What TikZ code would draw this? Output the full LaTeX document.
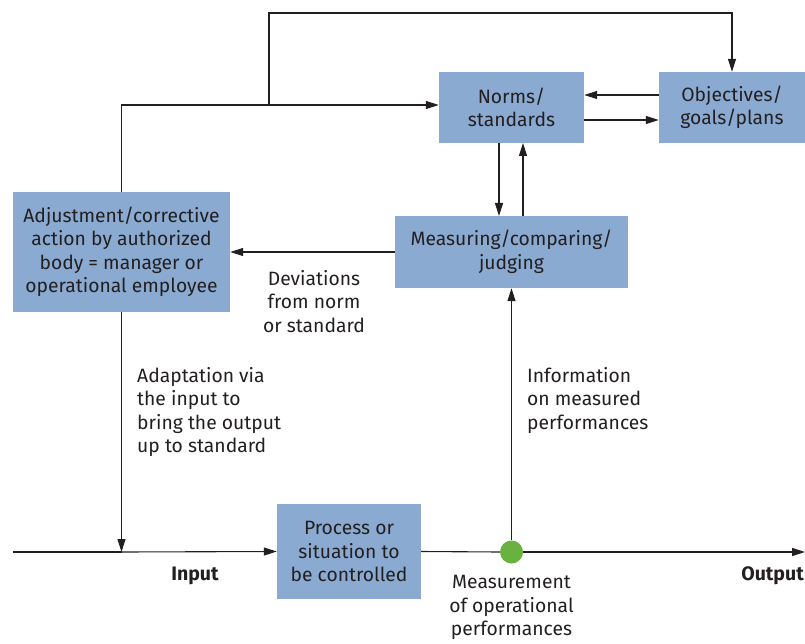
\documentclass[tikz,border=0pt]{standalone}
\usepackage{fontspec}
\setmainfont{Fira Sans}
\usetikzlibrary{arrows.meta}
\definecolor{boxblue}{HTML}{8AAAD1}
\definecolor{dotgreen}{HTML}{6AB23F}
\definecolor{ink}{HTML}{231F20}
\begin{document}
\begin{tikzpicture}[x=1pt,y=-1pt,
  every node/.style={font=\fontsize{19.3}{23.5}\selectfont, text=ink},
  blk/.style={fill=boxblue, draw=none, align=center, inner sep=0pt},
  lbl/.style={align=left, inner sep=0pt, anchor=north west},
  clbl/.style={align=center, inner sep=0pt, anchor=north},
  conn/.style={draw=ink, line width=1.1pt, -{Triangle[length=13pt,width=8pt]}},
  plain/.style={draw=ink, line width=1.1pt},
  boldlbl/.style={font=\fontsize{19.5}{22}\bfseries\selectfont, inner sep=0pt}]
\useasboundingbox (0,0) rectangle (805,644);

% blocks
\node[blk, minimum width=145pt, minimum height=71pt] (norms) at (511.5,107.5) {Norms/\\standards};
\node[blk, minimum width=146pt, minimum height=71pt] (obj) at (732,107.5) {Objectives/\\goals/plans};
\node[blk, minimum width=233pt, minimum height=72pt] (meas) at (511.5,252) {Measuring/comparing/\\judging};
\node[blk, minimum width=217pt, minimum height=120pt] (adj) at (121.5,252) {Adjustment/corrective\\action by authorized\\body = manager or\\operational employee};
\node[blk, minimum width=144pt, minimum height=95pt] (proc) at (349,551.5) {Process or\\situation to\\be controlled};

% measurement point
\node[circle, fill=dotgreen, minimum size=23pt, inner sep=0pt] (dot) at (511.5,552) {};

% main line
\coordinate (inL) at (13,552);
\coordinate (outR) at (805,552);
\coordinate (inJ) at (121.5,552);
\draw[plain] (inL) -- (inJ);
\draw[conn] (inJ) -- (proc.west);
\draw[plain] (proc.east) -- (dot.west);
\draw[conn] (dot.east) -- (outR);

% feedback from the adjustment block
\draw[conn] (adj.south) -- (inJ);
\coordinate (topL) at (121.5,105);
\coordinate (split) at (269,105);
\draw[plain] (adj.north) -- (topL) -- (split);
\draw[conn] (split) -- (norms.west |- split);
\draw[conn] (split) -- (269,13) -- (obj.north |- 0,13) -- (obj.north);

% norms <-> objectives
\draw[conn] (obj.west |- 0,95) -- (norms.east |- 0,95);
\draw[conn] (norms.east |- 0,120) -- (obj.west |- 0,120);

% norms <-> measuring
\draw[conn] (499,143) -- (499,216);
\draw[conn] (523,216) -- (523,143);

% measuring -> adjustment
\draw[conn] (meas.west |- 0,252) -- (adj.east |- 0,252);

% information upward
\draw[conn] (dot.north) -- (meas.south);

% labels
\node[clbl] (dev) at (314,270) {Deviations\\from norm\\or standard};
\node[lbl] (adapt) at (137,367) {Adaptation via\\the input to\\bring the output\\up to standard};
\node[lbl] (info) at (527,367) {Information\\on measured\\performances};
\node[clbl] (mlab) at (511.5,575) {Measurement\\of operational\\performances};
\node[boldlbl] (inp) at (195,576) {Input};
\node[boldlbl, anchor=east] (outp) at (804,576) {Output};
\end{tikzpicture}
\end{document}
